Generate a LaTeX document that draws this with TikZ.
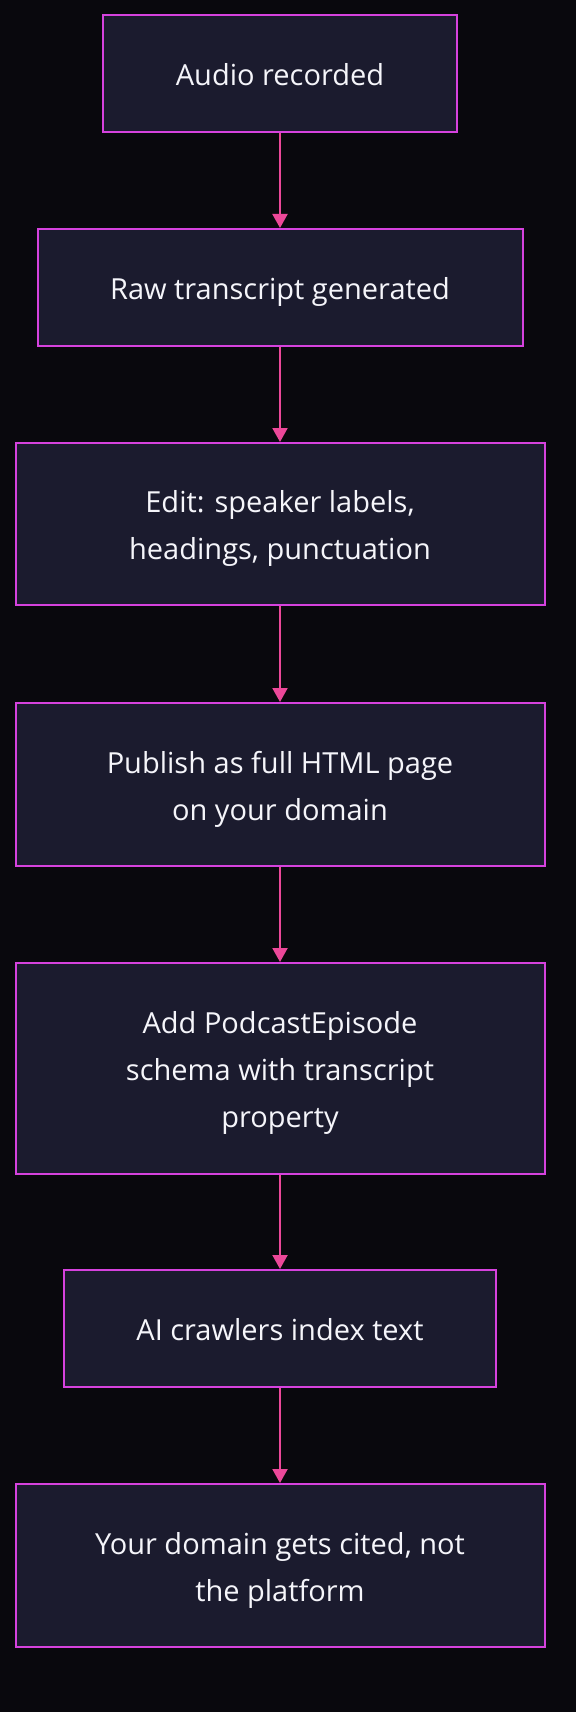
\documentclass[tikz,border=0pt]{standalone}
\usepackage{fontspec}
\setmainfont{Open Sans}
\usetikzlibrary{arrows.meta}
\definecolor{bgc}{RGB}{9,8,13}
\definecolor{boxfill}{RGB}{27,27,46}
\definecolor{boxline}{RGB}{214,66,222}
\definecolor{arrowc}{RGB}{236,72,153}
\definecolor{txt}{RGB}{245,245,250}
\newcommand{\tstr}{\rule{0pt}{31pt}}
\newcommand{\bstr}{\rule[-6.6pt]{0pt}{6.6pt}}
\tikzset{
  flowbox/.style={draw=boxline, fill=boxfill, line width=2pt, text=txt,
    align=center, inner sep=0pt,
    font=\fontsize{29pt}{47pt}\selectfont},
  flowarrow/.style={draw=arrowc, line width=2pt,
    -{Triangle[length=14pt,width=15pt]}, shorten >=0pt}
}
\begin{document}
\begin{tikzpicture}[x=1pt,y=-1pt]
\fill[bgc] (0,0) rectangle (576,1712);
\useasboundingbox (0,0) rectangle (576,1712);
\node[flowbox, minimum width=354pt, minimum height=117pt] (n1) at (280,73.5) {\tstr Audio recorded\bstr};
\node[flowbox, minimum width=485pt, minimum height=117pt] (n2) at (280,287.5) {\tstr Raw transcript generated\bstr};
\node[flowbox, minimum width=529pt, minimum height=162pt] (n3) at (280,524) {\tstr Edit: speaker labels,\\headings, punctuation\bstr};
\node[flowbox, minimum width=529pt, minimum height=163pt] (n4) at (280,784.5) {\tstr Publish as full HTML page\\on your domain\bstr};
\node[flowbox, minimum width=529pt, minimum height=211pt] (n5) at (280,1068.5) {\tstr Add PodcastEpisode\\schema with transcript\\property\bstr};
\node[flowbox, minimum width=432pt, minimum height=117pt] (n6) at (280,1328.5) {\tstr AI crawlers index text\bstr};
\node[flowbox, minimum width=529pt, minimum height=163pt] (n7) at (280,1565.5) {\tstr Your domain gets cited, not\\the platform\bstr};
\draw[flowarrow] (n1.south) -- (n2.north);
\draw[flowarrow] (n2.south) -- (n3.north);
\draw[flowarrow] (n3.south) -- (n4.north);
\draw[flowarrow] (n4.south) -- (n5.north);
\draw[flowarrow] (n5.south) -- (n6.north);
\draw[flowarrow] (n6.south) -- (n7.north);
\end{tikzpicture}
\end{document}
